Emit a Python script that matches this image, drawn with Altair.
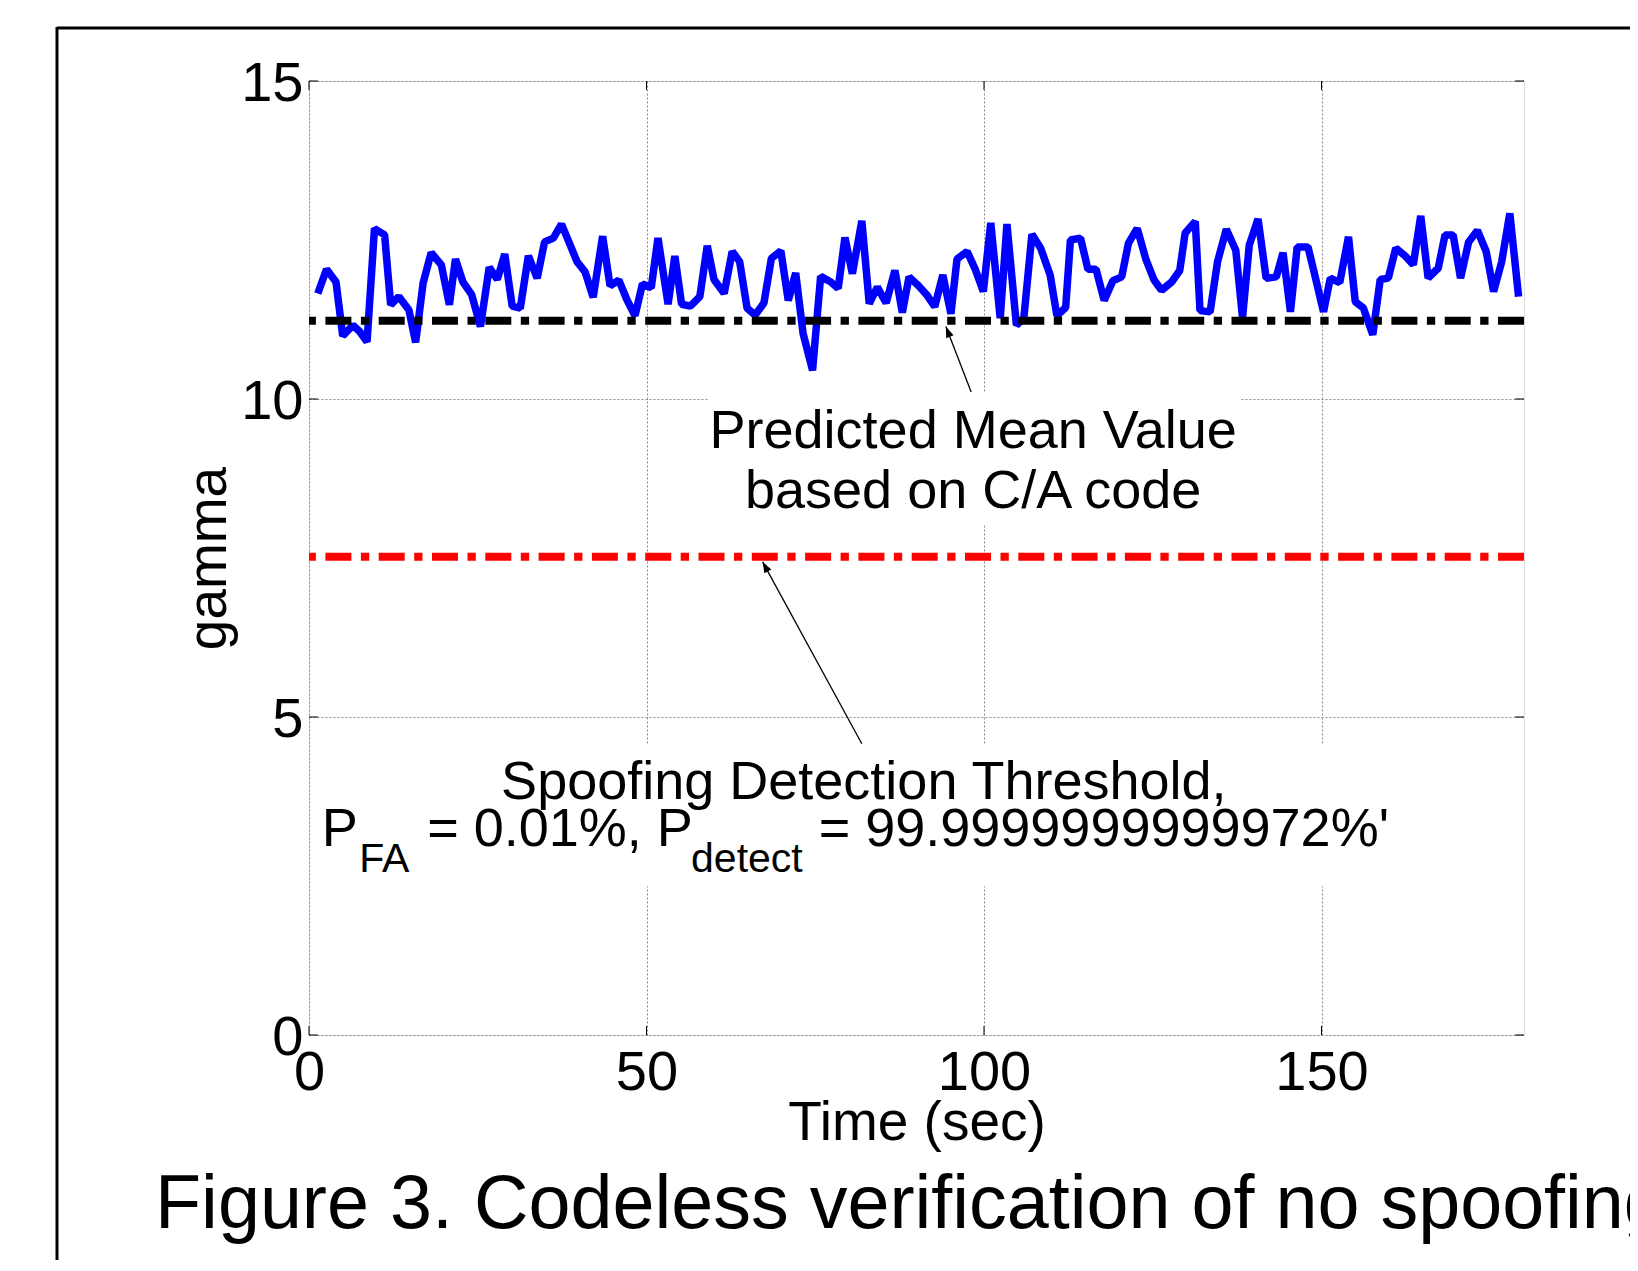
import altair as alt
import pandas as pd

# ---- data ----
time_s = [1.3, 2.6, 4.0, 5.0, 6.5, 7.5, 8.6, 9.7, 11.2, 12.1, 13.3, 14.8, 15.8, 16.9, 18.1,
          19.6, 20.8, 21.7, 22.8, 24.1, 25.4, 26.7, 27.9, 29.0, 30.1, 31.3, 32.5, 33.8, 34.9,
          36.2, 37.4, 38.5, 39.7, 40.9, 42.1, 43.5, 44.6, 45.9, 47.1, 48.3, 49.4, 50.7, 51.7,
          53.2, 54.2, 55.2, 56.5, 57.9, 59.0, 60.0, 61.5, 62.7, 63.8, 64.9, 66.1, 67.4, 68.5,
          69.9, 71.0, 72.1, 73.2, 74.6, 75.8, 77.3, 78.4, 79.4, 80.5, 81.9, 83.0, 84.2, 85.5,
          86.8, 87.9, 88.9, 90.3, 91.5, 92.7, 93.9, 95.1, 96.0, 97.5, 98.7, 99.9, 101.0, 102.4,
          103.4, 104.8, 105.9, 107.1, 108.4, 109.8, 110.8, 112.1, 112.8, 114.3, 115.4, 116.6,
          117.8, 119.1, 120.4, 121.4, 122.7, 124.0, 125.2, 126.3, 127.8, 129.0, 129.8, 131.3,
          132.0, 133.5, 134.6, 135.9, 137.3, 138.3, 139.3, 140.6, 141.8, 143.3, 144.3, 145.4,
          146.4, 148.0, 149.0, 150.3, 151.3, 152.7, 154.0, 155.0, 156.2, 157.6, 158.7, 159.9,
          161.0, 162.4, 163.6, 164.7, 165.8, 167.3, 168.3, 169.5, 170.6, 171.8, 173.1, 174.4,
          175.5, 176.7, 177.9, 179.2]
gamma = [11.66, 12.04, 11.84, 10.99, 11.16, 11.06, 10.90, 12.68, 12.58, 11.48, 11.61, 11.40,
         10.89, 11.82, 12.30, 12.11, 11.48, 12.20, 11.84, 11.64, 11.14, 12.07, 11.88, 12.28,
         11.46, 11.43, 12.25, 11.90, 12.47, 12.53, 12.75, 12.47, 12.16, 12.00, 11.60, 12.56,
         11.78, 11.87, 11.56, 11.31, 11.81, 11.75, 12.53, 11.49, 12.25, 11.49, 11.46, 11.61,
         12.41, 11.88, 11.66, 12.32, 12.16, 11.43, 11.32, 11.51, 12.21, 12.33, 11.55, 11.98,
         11.03, 10.45, 11.93, 11.84, 11.74, 12.54, 11.97, 12.80, 11.50, 11.76, 11.51, 12.02,
         11.36, 11.92, 11.78, 11.64, 11.45, 11.95, 11.34, 12.20, 12.32, 12.04, 11.69, 12.77,
         11.27, 12.75, 11.16, 11.27, 12.59, 12.37, 11.95, 11.31, 11.44, 12.50, 12.53, 12.04,
         12.04, 11.55, 11.86, 11.92, 12.45, 12.68, 12.19, 11.87, 11.71, 11.84, 12.02, 12.61,
         12.79, 11.39, 11.37, 12.16, 12.67, 12.34, 11.28, 12.42, 12.83, 11.90, 11.92, 12.30,
         11.37, 12.39, 12.39, 11.95, 11.37, 11.90, 11.83, 12.55, 11.53, 11.43, 11.01, 11.88,
         11.90, 12.37, 12.25, 12.11, 12.88, 11.90, 12.06, 12.58, 12.58, 11.90, 12.47, 12.65,
         12.32, 11.69, 12.16, 12.92, 11.61]
assert len(time_s) == len(gamma)

mean_level = 11.23
threshold_level = 7.52

x_ticks = [0, 50, 100, 150]
y_ticks = [0, 5, 10, 15]

# annotations (data coordinates)
ctr_text = ["Predicted Mean Value", "based on C/A code", "Spoofing Detection Threshold,"]
ctr_t = [98.4, 98.4, 82.2]
ctr_g = [9.23, 8.29, 3.71]

left_text = ["P", "= 0.01%, P", "= 99.9999999999972%'"]
left_t = [1.9, 17.5, 75.5]
left_g = [2.97, 2.97, 2.97]

sub_text = ["FA", "detect"]
sub_t = [7.45, 56.6]
sub_g = [2.56, 2.56]

box_t = [59.1, 1.0]
box_t2 = [137.9, 161.0]
box_g = [8.02, 2.34]
box_g2 = [10.1, 4.58]

arrow_t = [98.1, 81.9]
arrow_g = [10.11, 4.58]
tip_t = [94.35, 67.2]
tip_g = [11.14, 7.44]
head_angle = [338.5, 331.5]

caption = "Figure 3. Codeless verification of no spoofing"

# ---- chart ----
FONT = "Liberation Sans"
W, H = 1215, 954

xscale = alt.Scale(domain=[0, 180], nice=False, zero=False)
yscale = alt.Scale(domain=[0, 15], nice=False)

xaxis = alt.Axis(values=x_ticks, title="Time (sec)", grid=True, gridColor="#8a8a8a",
                 gridDash=[2, 2], gridWidth=1, tickSize=0, domain=False,
                 labelFontSize=56, labelFont=FONT, labelColor="black", labelPadding=10,
                 labelFlush=False, titleFontSize=55, titleFont=FONT, titleColor="black",
                 titleFontWeight="normal", titleY=104, titleBaseline="alphabetic")
yaxis = alt.Axis(values=y_ticks, title="gamma", grid=True, gridColor="#8a8a8a",
                 gridDash=[2, 2], gridWidth=1, tickSize=0, domain=False,
                 labelFontSize=56, labelFont=FONT, labelColor="black", labelPadding=6,
                 labelOffset=2, labelFlush=False, titleFontSize=55, titleFont=FONT,
                 titleColor="black", titleFontWeight="normal", titleX=-84, titleY=477,
                 titleAngle=270, titleAlign="center", titleBaseline="alphabetic")

X = alt.X("t:Q", scale=xscale, axis=xaxis)
Y = alt.Y("g:Q", scale=yscale, axis=yaxis)

df_line = pd.DataFrame({"t": time_s, "g": gamma})
one = pd.DataFrame({"k": [0]})

boxes = alt.Chart(pd.DataFrame({"t": box_t, "t2": box_t2, "g": box_g, "g2": box_g2})).mark_rect(
    color="white").encode(x=X, x2="t2:Q", y=Y, y2="g2:Q")

line = alt.Chart(df_line).mark_line(color="#0000ff", strokeWidth=7.5, strokeJoin="bevel").encode(
    x=X, y=Y, order="t:Q")

mean_rule = alt.Chart(pd.DataFrame({"g": [mean_level]})).mark_rule(
    color="black", strokeWidth=8, strokeDash=[26, 9.5, 8.3, 9.5], strokeCap="butt").encode(y=Y)
thr_rule = alt.Chart(pd.DataFrame({"g": [threshold_level]})).mark_rule(
    color="#ff0000", strokeWidth=8, strokeDash=[26, 9.5, 8.3, 9.5], strokeCap="butt").encode(y=Y)

df_arrow = pd.DataFrame({"t": arrow_t, "g": arrow_g, "t2": tip_t, "g2": tip_g})
arrows = alt.Chart(df_arrow).mark_rule(color="black", strokeWidth=1.3).encode(
    x=X, y=Y, x2="t2:Q", y2="g2:Q")
df_head = pd.DataFrame({"t": tip_t, "g": tip_g, "ang": head_angle})
heads = alt.Chart(df_head).mark_point(
    shape="M0,0 L-0.36,1 L0.36,1 Z", filled=True, color="black", size=480, opacity=1,
    strokeWidth=0).encode(x=X, y=Y, angle=alt.Angle("ang:Q", scale=None))

ctr_layer = alt.Chart(pd.DataFrame({"t": ctr_t, "g": ctr_g, "txt": ctr_text})).mark_text(
    font=FONT, fontSize=54, align="center", baseline="alphabetic", color="black").encode(
    x=X, y=Y, text="txt:N")
left_layer = alt.Chart(pd.DataFrame({"t": left_t, "g": left_g, "txt": left_text})).mark_text(
    font=FONT, fontSize=54, align="left", baseline="alphabetic", color="black").encode(
    x=X, y=Y, text="txt:N")
sub_layer = alt.Chart(pd.DataFrame({"t": sub_t, "g": sub_g, "txt": sub_text})).mark_text(
    font=FONT, fontSize=41, align="left", baseline="alphabetic", color="black").encode(
    x=X, y=Y, text="txt:N")

df_xt = pd.DataFrame({"t": x_ticks})
df_yt = pd.DataFrame({"g": y_ticks})
tick_style = dict(color="black", strokeWidth=1)
xt_bot = alt.Chart(df_xt).mark_rule(**tick_style).encode(x=X, y=alt.value(H), y2=alt.value(H - 9))
xt_top = alt.Chart(df_xt).mark_rule(**tick_style).encode(x=X, y=alt.value(0), y2=alt.value(9))
yt_left = alt.Chart(df_yt).mark_rule(**tick_style).encode(y=Y, x=alt.value(0), x2=alt.value(9))
yt_right = alt.Chart(df_yt).mark_rule(**tick_style).encode(y=Y, x=alt.value(W), x2=alt.value(W - 9))

frame_top = alt.Chart(one).mark_rule(color="black", strokeWidth=3).encode(
    x=alt.value(-252), x2=alt.value(1500), y=alt.value(-53))
frame_left = alt.Chart(one).mark_rule(color="black", strokeWidth=3).encode(
    x=alt.value(-252), y=alt.value(-54), y2=alt.value(1400))

cap = alt.Chart(pd.DataFrame({"txt": [caption]})).mark_text(
    font=FONT, fontSize=75.5, align="left", baseline="alphabetic", color="black").encode(
    x=alt.value(-154), y=alt.value(1147), text="txt:N")

chart = alt.layer(
    boxes, line, mean_rule, thr_rule, arrows, heads, ctr_layer, left_layer, sub_layer,
    xt_bot, xt_top, yt_left, yt_right, frame_top, frame_left, cap
).properties(
    width=W, height=H,
    padding={"left": 301, "top": 73, "right": 106, "bottom": 225},
    autosize=alt.AutoSizeParams(type="none"),
    background="white",
).configure_view(
    stroke="black", strokeWidth=1.5
).configure(font=FONT)

chart.save("out.html", embed_options={"renderer": "svg", "actions": False})
